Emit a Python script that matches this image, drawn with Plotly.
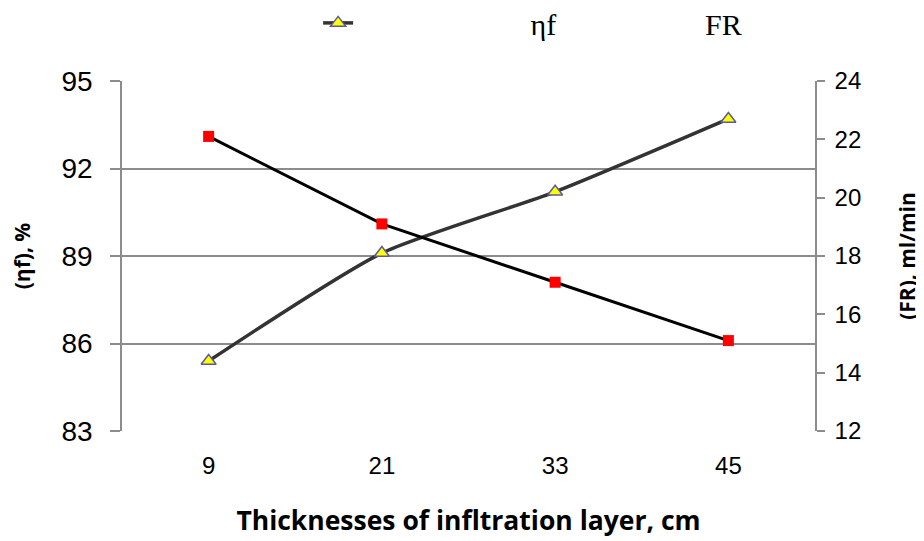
import plotly.graph_objects as go

categories = ["9", "21", "33", "45"]
eta_f = [85.4, 89.1, 91.2, 93.7]
fr = [22.1, 19.1, 17.1, 15.1]
left_ticks = [83, 86, 89, 92, 95]
right_ticks = [12, 14, 16, 18, 20, 22, 24]

fig = go.Figure()

fig.add_trace(go.Scatter(
    x=categories, y=fr, name="FR", yaxis="y2", mode="lines+markers",
    line=dict(color="#000000", width=3),
    marker=dict(symbol="square", size=11, color="#ff0000"),
    showlegend=False,
))
fig.add_trace(go.Scatter(
    x=categories, y=eta_f, name="\u2003" * 5 + "\u2005" * 3 + "ηf",
    mode="lines+markers",
    line=dict(color="#333333", width=3.5, shape="spline", smoothing=0.6),
    marker=dict(symbol="triangle-up", size=13, color="#ffff00",
                line=dict(color="#5a5a9e", width=1.5)),
))
# legend-only entry for FR (no visible sample, as in the reference)
fig.add_trace(go.Scatter(
    x=[None], y=[None], name="FR", mode="lines",
    line=dict(color="rgba(0,0,0,0)", width=1),
))

grid = "#8c8c8c"
fig.update_layout(
    width=924, height=541,
    margin=dict(l=114, r=117, t=73, b=118, autoexpand=False),
    paper_bgcolor="white", plot_bgcolor="white",
    font=dict(family="Liberation Sans, Arial", color="#000000"),
    xaxis=dict(
        type="category", range=[-0.5, 3.5], showgrid=False, zeroline=False,
        showline=False, ticks="", tickfont=dict(size=24),
        ticklabelstandoff=18,
        title=dict(text="<b>Thicknesses of infltration layer, cm</b>",
                   font=dict(family="Open Sans", size=26.5), standoff=33),
    ),
    yaxis=dict(
        range=[83, 95], tickvals=left_ticks, showgrid=True, gridcolor=grid,
        gridwidth=1.5, zeroline=False, showline=True, linecolor=grid,
        linewidth=1.5, ticks="outside", ticklen=10, tickcolor=grid,
        tickwidth=1.5, tickfont=dict(size=28), ticklabelstandoff=12,
        title=dict(text="<b>(ηf), %</b>",
                   font=dict(family="Open Sans", size=21), standoff=30),
    ),
    yaxis2=dict(
        range=[12, 24], tickvals=right_ticks, overlaying="y", side="right",
        showgrid=False, zeroline=False, showline=True, linecolor=grid,
        linewidth=1.5, ticks="outside", ticklen=8, tickcolor=grid,
        tickwidth=1.5, tickfont=dict(size=24), ticklabelstandoff=5,
        title=dict(text="<b>(FR), ml/min</b>",
                   font=dict(family="Open Sans", size=21), standoff=40),
    ),
    legend=dict(
        orientation="h", x=0.283, xanchor="left", y=1.166, yanchor="middle",
        font=dict(family="Liberation Serif", size=30),
        entrywidth=302, traceorder="normal",
    ),
)

fig.write_html("out.html")
